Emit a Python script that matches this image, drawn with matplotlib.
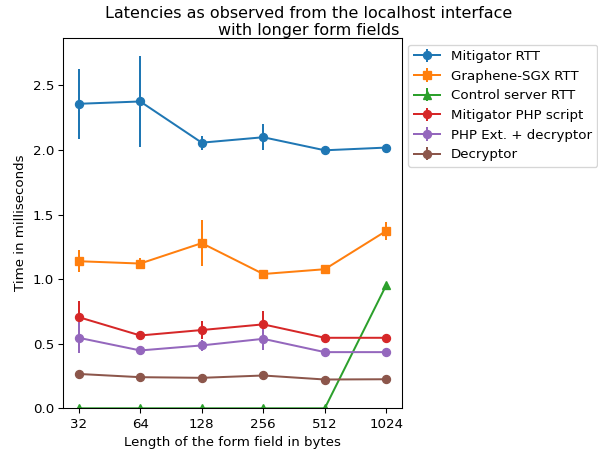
import matplotlib
matplotlib.use("Agg")
import matplotlib.pyplot as plt
from matplotlib.ticker import NullLocator

sizes = [32, 64, 128, 256, 512, 1024]
tick_labels = ["32", "64", "128", "256", "512", "1024"]

mitigator_rtt = [2.358, 2.376, 2.057, 2.099, 1.998, 2.019]
mitigator_rtt_err = [0.27, 0.355, 0.055, 0.10, 0.01, 0.01]

graphene_rtt = [1.139, 1.121, 1.279, 1.040, 1.077, 1.374]
graphene_rtt_err = [0.085, 0.04, 0.18, 0.01, 0.03, 0.07]

control_rtt = [0.0, 0.0, 0.0, 0.0, 0.0, 0.955]
control_rtt_err = [0.0, 0.0, 0.0, 0.0, 0.0, 0.01]

php_script = [0.706, 0.564, 0.606, 0.650, 0.546, 0.546]
php_script_err = [0.125, 0.01, 0.07, 0.10, 0.01, 0.01]

php_ext = [0.546, 0.448, 0.487, 0.538, 0.435, 0.435]
php_ext_err = [0.12, 0.01, 0.045, 0.085, 0.01, 0.01]

decryptor = [0.266, 0.241, 0.236, 0.254, 0.223, 0.225]
decryptor_err = [0.01, 0.01, 0.01, 0.01, 0.01, 0.01]

series = [
    ("Mitigator RTT", mitigator_rtt, mitigator_rtt_err, "o", "#1f77b4"),
    ("Graphene-SGX RTT", graphene_rtt, graphene_rtt_err, "s", "#ff7f0e"),
    ("Control server RTT", control_rtt, control_rtt_err, "^", "#2ca02c"),
    ("Mitigator PHP script", php_script, php_script_err, "o", "#d62728"),
    ("PHP Ext. + decryptor", php_ext, php_ext_err, "o", "#9467bd"),
    ("Decryptor", decryptor, decryptor_err, "o", "#8c564b"),
]

DPI = 96
fig = plt.figure(figsize=(598 / DPI, 454 / DPI), dpi=DPI)
ax = fig.add_axes([63.3 / 598, (454 - 408.3) / 454, (401.7 - 63.3) / 598, (408.3 - 38) / 454])

for label, vals, errs, marker, color in series:
    ax.errorbar(sizes, vals, yerr=errs, marker=marker, color=color, label=label)

ax.set_xscale("log", base=2)
ax.set_xticks(sizes)
ax.set_xticklabels(tick_labels)
ax.xaxis.set_minor_locator(NullLocator())
ax.set_ylim(bottom=0)

ax.set_xlabel("Length of the form field in bytes")
ax.set_ylabel("Time in milliseconds")
ax.set_title("Latencies as observed from the localhost interface\nwith longer form fields",
             x=0.726, fontsize=12, pad=1)
ax.legend(loc="upper left", bbox_to_anchor=(1, 1))

fig.savefig("out.png", dpi=DPI)
